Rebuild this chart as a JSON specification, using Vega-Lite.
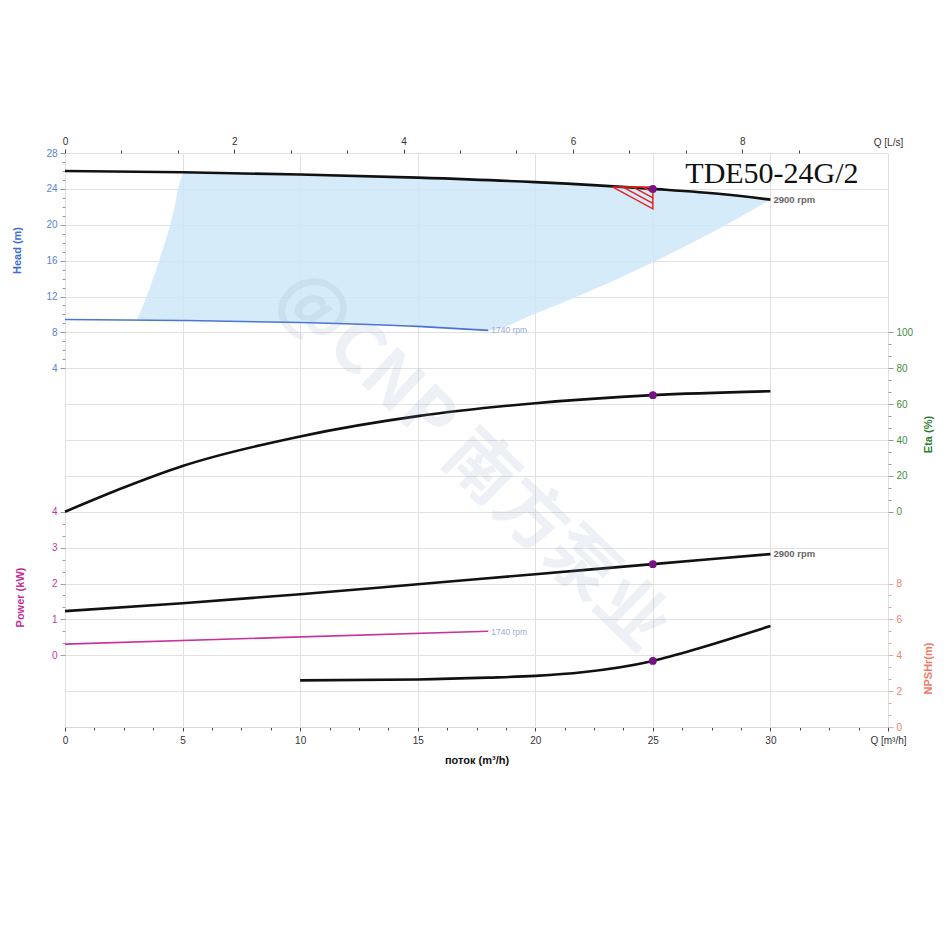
{
  "$schema": "https://vega.github.io/schema/vega-lite/v6.json",
  "autosize": {"type": "none"},
  "padding": {"left": 65, "top": 153, "right": 62, "bottom": 223},
  "width": 823,
  "height": 574,
  "background": "white",
  "config": {
    "view": {"stroke": null},
    "axis": {"labelFont": "Liberation Sans", "titleFont": "Liberation Sans", "labelFontSize": 10, "titleFontSize": 11, "titleFontWeight": "bold"}
  },
  "datasets": {
    "gridref": [{"q": 0, "g": 0}],
    "topref": [{"qls": 0, "g": 0}],
    "opArea": [
      {"q": 3.06, "hi": 9.4, "lo": 9.4},
      {"q": 3.5, "hi": 12.2, "lo": 9.39},
      {"q": 4.0, "hi": 16.0, "lo": 9.37},
      {"q": 4.5, "hi": 20.2, "lo": 9.35},
      {"q": 5.08, "hi": 25.84, "lo": 9.33},
      {"q": 10, "hi": 25.6, "lo": 9.1},
      {"q": 15, "hi": 25.25, "lo": 8.67},
      {"q": 18, "hi": 24.95, "lo": 8.22},
      {"q": 20, "hi": 24.75, "lo": 10.1},
      {"q": 22, "hi": 24.45, "lo": 12.25},
      {"q": 25, "hi": 24.0, "lo": 15.8},
      {"q": 27, "hi": 23.6, "lo": 18.45},
      {"q": 28, "hi": 23.4, "lo": 19.8},
      {"q": 29, "hi": 23.1, "lo": 21.3},
      {"q": 30, "hi": 22.8, "lo": 22.8}
    ],
    "head2900": [
      {"q": 0, "h": 26.0}, {"q": 5, "h": 25.85}, {"q": 10, "h": 25.6}, {"q": 15, "h": 25.25},
      {"q": 20, "h": 24.75}, {"q": 25, "h": 24.0}, {"q": 28, "h": 23.4}, {"q": 30, "h": 22.8}
    ],
    "head1740": [
      {"q": 0, "h": 9.44}, {"q": 5, "h": 9.33}, {"q": 10, "h": 9.1}, {"q": 15, "h": 8.67}, {"q": 18, "h": 8.22}
    ],
    "tri": [
      {"id": "t", "o": 0, "q": 23.28, "h": 24.22},
      {"id": "t", "o": 1, "q": 25.0, "h": 24.22},
      {"id": "t", "o": 2, "q": 25.0, "h": 21.78},
      {"id": "t", "o": 3, "q": 23.28, "h": 24.22},
      {"id": "a", "o": 0, "q": 23.71, "h": 24.22},
      {"id": "a", "o": 1, "q": 25.0, "h": 22.39},
      {"id": "b", "o": 0, "q": 24.14, "h": 24.22},
      {"id": "b", "o": 1, "q": 25.0, "h": 23.0},
      {"id": "c", "o": 0, "q": 24.57, "h": 24.22},
      {"id": "c", "o": 1, "q": 25.0, "h": 23.61}
    ],
    "eta": [
      {"q": 0, "e": 0}, {"q": 2.5, "e": 13.5}, {"q": 5, "e": 25.5}, {"q": 10, "e": 42}, {"q": 15, "e": 53.3},
      {"q": 20, "e": 60.5}, {"q": 25, "e": 65}, {"q": 30, "e": 67.2}
    ],
    "pow2900": [
      {"q": 0, "p": 1.23}, {"q": 5, "p": 1.45}, {"q": 10, "p": 1.7}, {"q": 15, "p": 1.98},
      {"q": 20, "p": 2.26}, {"q": 25, "p": 2.54}, {"q": 30, "p": 2.82}
    ],
    "pow1740": [
      {"q": 0, "p": 0.31}, {"q": 9, "p": 0.49}, {"q": 18, "p": 0.67}
    ],
    "npsh": [
      {"q": 10, "n": 2.6}, {"q": 15, "n": 2.65}, {"q": 18, "n": 2.75}, {"q": 20, "n": 2.85},
      {"q": 22, "n": 3.05}, {"q": 25, "n": 3.68}, {"q": 27, "n": 4.4}, {"q": 28.5, "n": 5.0}, {"q": 30, "n": 5.63}
    ],
    "dutyHead": [{"q": 25, "h": 24.0}],
    "dutyEta": [{"q": 25, "e": 65}],
    "dutyPow": [{"q": 25, "p": 2.54}],
    "dutyNpsh": [{"q": 25, "n": 3.68}],
    "headMain": [{"q": 30, "h": 22.8, "t": "2900 rpm"}],
    "headLow": [{"q": 18, "h": 8.22, "t": "1740 rpm"}],
    "powMain": [{"q": 30, "p": 2.82, "t": "2900 rpm"}],
    "powLow": [{"q": 18, "p": 0.64, "t": "1740 rpm"}],
    "model": [{"q": 26.38, "h": 24.67, "t": "TDE50-24G/2"}],
    "mark": [{"q": 17.3, "g": 7.4, "t": "@CNP 南方泵业"}]
  },
  "resolve": {"scale": {"x": "independent", "y": "independent"}},
  "layer": [
    {
      "data": {"name": "gridref"},
      "mark": {"type": "point", "opacity": 0},
      "encoding": {
        "x": {"field": "q", "type": "quantitative",
          "scale": {"domain": [0, 35], "nice": false, "zero": false},
          "axis": {"orient": "bottom",
            "values": [0,1.25,2.5,3.75,5,6.25,7.5,8.75,10,11.25,12.5,13.75,15,16.25,17.5,18.75,20,21.25,22.5,23.75,25,26.25,27.5,28.75,30,31.25,32.5,33.75,35],
            "grid": true, "gridColor": "#e1e1e1",
            "gridOpacity": {"condition": {"test": "datum.value % 5 === 0", "value": 1}, "value": 0},
            "labelExpr": "datum.value == 35 ? 'Q [m³/h]' : (datum.value % 5 === 0 ? datum.label : '')",
            "labelFlush": false, "labelOverlap": false,
            "labelColor": "#333", "labelFontSize": 10, "labelPadding": 4,
            "tickColor": "#444",
            "tickSize": {"condition": {"test": "datum.value % 5 === 0", "value": 4}, "value": 3},
            "domain": true, "domainColor": "#d6d6d6",
            "title": "поток (m³/h)", "titleColor": "#111", "titleFontSize": 11, "titlePadding": 9}},
        "y": {"field": "g", "type": "quantitative",
          "scale": {"domain": [0, 16], "nice": false, "zero": false},
          "axis": {"orient": "left", "values": [0,1,2,3,4,5,6,7,8,9,10,11,12,13,14,15,16],
            "grid": true, "gridColor": "#e1e1e1", "ticks": false, "labels": false, "domain": false, "title": null}}
      }
    },
    {
      "data": {"name": "topref"},
      "mark": {"type": "point", "opacity": 0},
      "encoding": {
        "x": {"field": "qls", "type": "quantitative",
          "scale": {"domain": [0, 9.72222], "nice": false, "zero": false},
          "axis": {"orient": "top",
            "values": [0,0.66667,1.33333,2,2.66667,3.33333,4,4.66667,5.33333,6,6.66667,7.33333,8,8.66667,9.72222],
            "grid": false, "domain": false,
            "labelExpr": "datum.value > 9.7 ? 'Q [L/s]' : (abs(datum.value/2 - round(datum.value/2)) < 0.01 ? format(round(datum.value),'d') : '')",
            "labelFlush": false, "labelOverlap": false,
            "labelColor": "#333", "labelFontSize": 10, "labelPadding": 3,
            "tickColor": "#444",
            "tickOpacity": {"condition": {"test": "datum.value > 9.7", "value": 0}, "value": 1},
            "tickSize": {"condition": {"test": "abs(datum.value/2 - round(datum.value/2)) < 0.01", "value": 4}, "value": 3},
            "title": null}},
        "y": {"field": "g", "type": "quantitative", "scale": {"domain": [0, 16], "nice": false, "zero": false}, "axis": null}
      }
    },
    {
      "data": {"name": "opArea"},
      "mark": {"type": "area", "color": "#cfe7f8", "opacity": 0.85, "interpolate": "monotone"},
      "encoding": {
        "x": {"field": "q", "type": "quantitative", "scale": {"domain": [0, 35], "nice": false, "zero": false}, "axis": null},
        "y": {"field": "hi", "type": "quantitative",
          "scale": {"domain": [-36, 28], "nice": false, "zero": false},
          "axis": {"orient": "left",
            "values": [4,5,6,7,8,9,10,11,12,13,14,15,16,17,18,19,20,21,22,23,24,25,26,27,28],
            "grid": false, "domain": false,
            "labelExpr": "datum.value % 4 === 0 ? datum.label : ''",
            "labelColor": "#5b7fd4", "labelFontSize": 10, "labelPadding": 3,
            "tickColor": "#8d9ab8",
            "tickSize": {"condition": {"test": "datum.value % 4 === 0", "value": 5}, "value": 3},
            "title": "Head (m)", "titleColor": "#3c6fd6", "titleAngle": -90,
            "titleBaseline": "middle", "titleAlign": "center", "titleX": -48, "titleY": 97}},
        "y2": {"field": "lo"}
      }
    },
    {
      "data": {"name": "head1740"},
      "mark": {"type": "line", "color": "#4a74d6", "strokeWidth": 1.6, "interpolate": "monotone"},
      "encoding": {
        "x": {"field": "q", "type": "quantitative", "scale": {"domain": [0, 35], "nice": false, "zero": false}, "axis": null},
        "y": {"field": "h", "type": "quantitative", "scale": {"domain": [-36, 28], "nice": false, "zero": false}, "axis": null}
      }
    },
    {
      "data": {"name": "head2900"},
      "mark": {"type": "line", "color": "#111111", "strokeWidth": 2.6, "interpolate": "monotone"},
      "encoding": {
        "x": {"field": "q", "type": "quantitative", "scale": {"domain": [0, 35], "nice": false, "zero": false}, "axis": null},
        "y": {"field": "h", "type": "quantitative", "scale": {"domain": [-36, 28], "nice": false, "zero": false}, "axis": null}
      }
    },
    {
      "data": {"name": "tri"},
      "mark": {"type": "line", "color": "#e52222", "strokeWidth": 1.5},
      "encoding": {
        "x": {"field": "q", "type": "quantitative", "scale": {"domain": [0, 35], "nice": false, "zero": false}, "axis": null},
        "y": {"field": "h", "type": "quantitative", "scale": {"domain": [-36, 28], "nice": false, "zero": false}, "axis": null},
        "detail": {"field": "id", "type": "nominal"},
        "order": {"field": "o", "type": "quantitative"}
      }
    },
    {
      "data": {"name": "eta"},
      "mark": {"type": "line", "color": "#111111", "strokeWidth": 2.6, "interpolate": "monotone"},
      "encoding": {
        "x": {"field": "q", "type": "quantitative", "scale": {"domain": [0, 35], "nice": false, "zero": false}, "axis": null},
        "y": {"field": "e", "type": "quantitative",
          "scale": {"domain": [-120, 200], "nice": false, "zero": false},
          "axis": {"orient": "right",
            "values": [0,6.6667,13.3333,20,26.6667,33.3333,40,46.6667,53.3333,60,66.6667,73.3333,80,86.6667,93.3333,100],
            "grid": false, "domain": false,
            "labelExpr": "abs(datum.value/20 - round(datum.value/20)) < 0.01 ? format(round(datum.value),'d') : ''",
            "labelColor": "#3f8f3f", "labelFontSize": 10, "labelPadding": 3,
            "tickColor": "#8aa08a",
            "tickSize": {"condition": {"test": "abs(datum.value/20 - round(datum.value/20)) < 0.01", "value": 5}, "value": 3},
            "title": "Eta (%)", "titleColor": "#2e7d2e", "titleAngle": -90,
            "titleBaseline": "middle", "titleAlign": "center", "titleX": 40, "titleY": 281}}
      }
    },
    {
      "data": {"name": "pow1740"},
      "mark": {"type": "line", "color": "#c8329c", "strokeWidth": 1.6},
      "encoding": {
        "x": {"field": "q", "type": "quantitative", "scale": {"domain": [0, 35], "nice": false, "zero": false}, "axis": null},
        "y": {"field": "p", "type": "quantitative", "scale": {"domain": [-2, 14], "nice": false, "zero": false}, "axis": null}
      }
    },
    {
      "data": {"name": "pow2900"},
      "mark": {"type": "line", "color": "#111111", "strokeWidth": 2.6, "interpolate": "monotone"},
      "encoding": {
        "x": {"field": "q", "type": "quantitative", "scale": {"domain": [0, 35], "nice": false, "zero": false}, "axis": null},
        "y": {"field": "p", "type": "quantitative",
          "scale": {"domain": [-2, 14], "nice": false, "zero": false},
          "axis": {"orient": "left",
            "values": [0,0.33333,0.66667,1,1.33333,1.66667,2,2.33333,2.66667,3,3.33333,3.66667,4],
            "grid": false, "domain": false,
            "labelExpr": "abs(datum.value - round(datum.value)) < 0.01 ? format(round(datum.value),'d') : ''",
            "labelColor": "#c2399c", "labelFontSize": 10, "labelPadding": 3,
            "tickColor": "#a89aa4",
            "tickSize": {"condition": {"test": "abs(datum.value - round(datum.value)) < 0.01", "value": 5}, "value": 3},
            "title": "Power (kW)", "titleColor": "#c2309a", "titleAngle": -90,
            "titleBaseline": "middle", "titleAlign": "center", "titleX": -45, "titleY": 444}}
      }
    },
    {
      "data": {"name": "npsh"},
      "mark": {"type": "line", "color": "#111111", "strokeWidth": 2.6, "interpolate": "monotone"},
      "encoding": {
        "x": {"field": "q", "type": "quantitative", "scale": {"domain": [0, 35], "nice": false, "zero": false}, "axis": null},
        "y": {"field": "n", "type": "quantitative",
          "scale": {"domain": [0, 32], "nice": false, "zero": false},
          "axis": {"orient": "right",
            "values": [0,0.66667,1.33333,2,2.66667,3.33333,4,4.66667,5.33333,6,6.66667,7.33333,8],
            "grid": false, "domain": false,
            "labelExpr": "abs(datum.value/2 - round(datum.value/2)) < 0.01 ? format(round(datum.value),'d') : ''",
            "labelColor": "#f0806e", "labelFontSize": 10, "labelPadding": 3,
            "tickColor": "#e8a89e",
            "tickSize": {"condition": {"test": "abs(datum.value/2 - round(datum.value/2)) < 0.01", "value": 5}, "value": 3},
            "title": "NPSHr(m)", "titleColor": "#f07a68", "titleAngle": -90,
            "titleBaseline": "middle", "titleAlign": "center", "titleX": 40, "titleY": 515}}
      }
    },
    {
      "data": {"name": "dutyHead"},
      "mark": {"type": "point", "filled": true, "color": "#7a0f86", "size": 60, "opacity": 1},
      "encoding": {
        "x": {"field": "q", "type": "quantitative", "scale": {"domain": [0, 35], "nice": false, "zero": false}, "axis": null},
        "y": {"field": "h", "type": "quantitative", "scale": {"domain": [-36, 28], "nice": false, "zero": false}, "axis": null}
      }
    },
    {
      "data": {"name": "dutyEta"},
      "mark": {"type": "point", "filled": true, "color": "#7a0f86", "size": 60, "opacity": 1},
      "encoding": {
        "x": {"field": "q", "type": "quantitative", "scale": {"domain": [0, 35], "nice": false, "zero": false}, "axis": null},
        "y": {"field": "e", "type": "quantitative", "scale": {"domain": [-120, 200], "nice": false, "zero": false}, "axis": null}
      }
    },
    {
      "data": {"name": "dutyPow"},
      "mark": {"type": "point", "filled": true, "color": "#7a0f86", "size": 60, "opacity": 1},
      "encoding": {
        "x": {"field": "q", "type": "quantitative", "scale": {"domain": [0, 35], "nice": false, "zero": false}, "axis": null},
        "y": {"field": "p", "type": "quantitative", "scale": {"domain": [-2, 14], "nice": false, "zero": false}, "axis": null}
      }
    },
    {
      "data": {"name": "dutyNpsh"},
      "mark": {"type": "point", "filled": true, "color": "#7a0f86", "size": 60, "opacity": 1},
      "encoding": {
        "x": {"field": "q", "type": "quantitative", "scale": {"domain": [0, 35], "nice": false, "zero": false}, "axis": null},
        "y": {"field": "n", "type": "quantitative", "scale": {"domain": [0, 32], "nice": false, "zero": false}, "axis": null}
      }
    },
    {
      "data": {"name": "headMain"},
      "mark": {"type": "text", "align": "left", "baseline": "middle", "dx": 3, "font": "Liberation Sans", "fontSize": 9.5, "fontWeight": "bold", "color": "#666666"},
      "encoding": {
        "x": {"field": "q", "type": "quantitative", "scale": {"domain": [0, 35], "nice": false, "zero": false}, "axis": null},
        "y": {"field": "h", "type": "quantitative", "scale": {"domain": [-36, 28], "nice": false, "zero": false}, "axis": null},
        "text": {"field": "t"}
      }
    },
    {
      "data": {"name": "headLow"},
      "mark": {"type": "text", "align": "left", "baseline": "middle", "dx": 3, "font": "Liberation Sans", "fontSize": 8.5, "color": "#9aaed6"},
      "encoding": {
        "x": {"field": "q", "type": "quantitative", "scale": {"domain": [0, 35], "nice": false, "zero": false}, "axis": null},
        "y": {"field": "h", "type": "quantitative", "scale": {"domain": [-36, 28], "nice": false, "zero": false}, "axis": null},
        "text": {"field": "t"}
      }
    },
    {
      "data": {"name": "powMain"},
      "mark": {"type": "text", "align": "left", "baseline": "middle", "dx": 3, "font": "Liberation Sans", "fontSize": 9.5, "fontWeight": "bold", "color": "#666666"},
      "encoding": {
        "x": {"field": "q", "type": "quantitative", "scale": {"domain": [0, 35], "nice": false, "zero": false}, "axis": null},
        "y": {"field": "p", "type": "quantitative", "scale": {"domain": [-2, 14], "nice": false, "zero": false}, "axis": null},
        "text": {"field": "t"}
      }
    },
    {
      "data": {"name": "powLow"},
      "mark": {"type": "text", "align": "left", "baseline": "middle", "dx": 3, "font": "Liberation Sans", "fontSize": 8.5, "color": "#9aaed6"},
      "encoding": {
        "x": {"field": "q", "type": "quantitative", "scale": {"domain": [0, 35], "nice": false, "zero": false}, "axis": null},
        "y": {"field": "p", "type": "quantitative", "scale": {"domain": [-2, 14], "nice": false, "zero": false}, "axis": null},
        "text": {"field": "t"}
      }
    },
    {
      "data": {"name": "model"},
      "mark": {"type": "text", "align": "left", "baseline": "alphabetic", "fontSize": 30, "font": "Liberation Serif", "color": "#111111"},
      "encoding": {
        "x": {"field": "q", "type": "quantitative", "scale": {"domain": [0, 35], "nice": false, "zero": false}, "axis": null},
        "y": {"field": "h", "type": "quantitative", "scale": {"domain": [-36, 28], "nice": false, "zero": false}, "axis": null},
        "text": {"field": "t"}
      }
    },
    {
      "data": {"name": "mark"},
      "mark": {"type": "text", "align": "center", "baseline": "middle", "angle": 44, "fontSize": 70, "fontWeight": "bold", "font": "Noto Sans CJK SC", "color": "#7d97b8", "opacity": 0.13},
      "encoding": {
        "x": {"field": "q", "type": "quantitative", "scale": {"domain": [0, 35], "nice": false, "zero": false}, "axis": null},
        "y": {"field": "g", "type": "quantitative", "scale": {"domain": [0, 16], "nice": false, "zero": false}, "axis": null},
        "text": {"field": "t"}
      }
    }
  ]
}
